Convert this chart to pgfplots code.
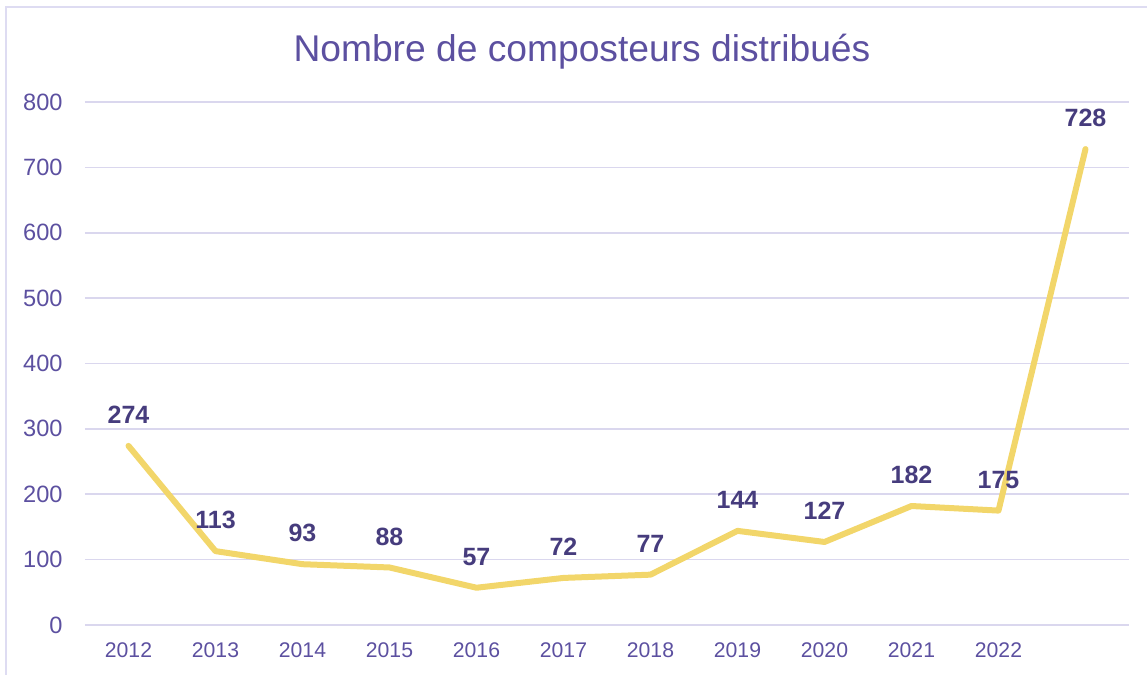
\documentclass[border=0pt]{standalone}
\usepackage{pgfplots}
\pgfplotsset{compat=1.18}
\usepackage{fontspec}
\setmainfont{Liberation Sans}
\definecolor{Lavender}{RGB}{218, 215, 238}
\definecolor{Frame}{RGB}{222, 220, 242}
\definecolor{Purple}{RGB}{92, 80, 160}
\definecolor{PurpleDark}{RGB}{70, 60, 125}
\definecolor{Sun}{RGB}{242, 214, 106}

\begin{document}
\begin{tikzpicture}
% canvas: 1px = 0.5pt, axis south west at origin
\useasboundingbox (-42.5pt,-25pt) rectangle (531pt,312.5pt);
\draw[Frame, line width=1.2pt] (-39.5pt,-25pt) -- (-39.5pt,309pt) -- (531pt,309pt);
\begin{axis}[
    at={(0,0)}, anchor=south west,
    scale only axis,
    width=522pt, height=261.5pt,
    xmin=-0.5, xmax=11.5,
    ymin=0, ymax=800,
    xtick={0,...,10},
    xticklabels={2012,2013,2014,2015,2016,2017,2018,2019,2020,2021,2022},
    ytick={0,100,...,800},
    ymajorgrids=true,
    major grid style={Lavender, line width=0.8pt},
    axis line style={draw=none},
    tick style={draw=none},
    /pgf/number format/assume math mode=true,
    xticklabel style={font=\fontsize{10.6}{12}\selectfont, text=Purple, anchor=center, inner sep=0pt, yshift=-12.5pt},
    yticklabel style={font=\fontsize{11.8}{13}\selectfont, text=Purple, anchor=east, inner sep=0pt, xshift=-11pt},
    title={Nombre de composteurs distribués},
    title style={at={(axis description cs:0.476,1.074)}, anchor=center,
                 font=\fontsize{18.6}{22}\selectfont, text=Purple},
    nodes near coords,
    nodes near coords style={font=\fontsize{12.5}{14}\selectfont\bfseries, text=PurpleDark,
                             anchor=center, inner sep=0pt, yshift=15.5pt},
    clip=false,
]
\addplot[Sun, line width=3pt, line join=round, line cap=round, mark=none]
    coordinates {
        (0,274) (1,113) (2,93) (3,88) (4,57) (5,72)
        (6,77) (7,144) (8,127) (9,182) (10,175) (11,728)
    };
\end{axis}
\end{tikzpicture}
\end{document}
